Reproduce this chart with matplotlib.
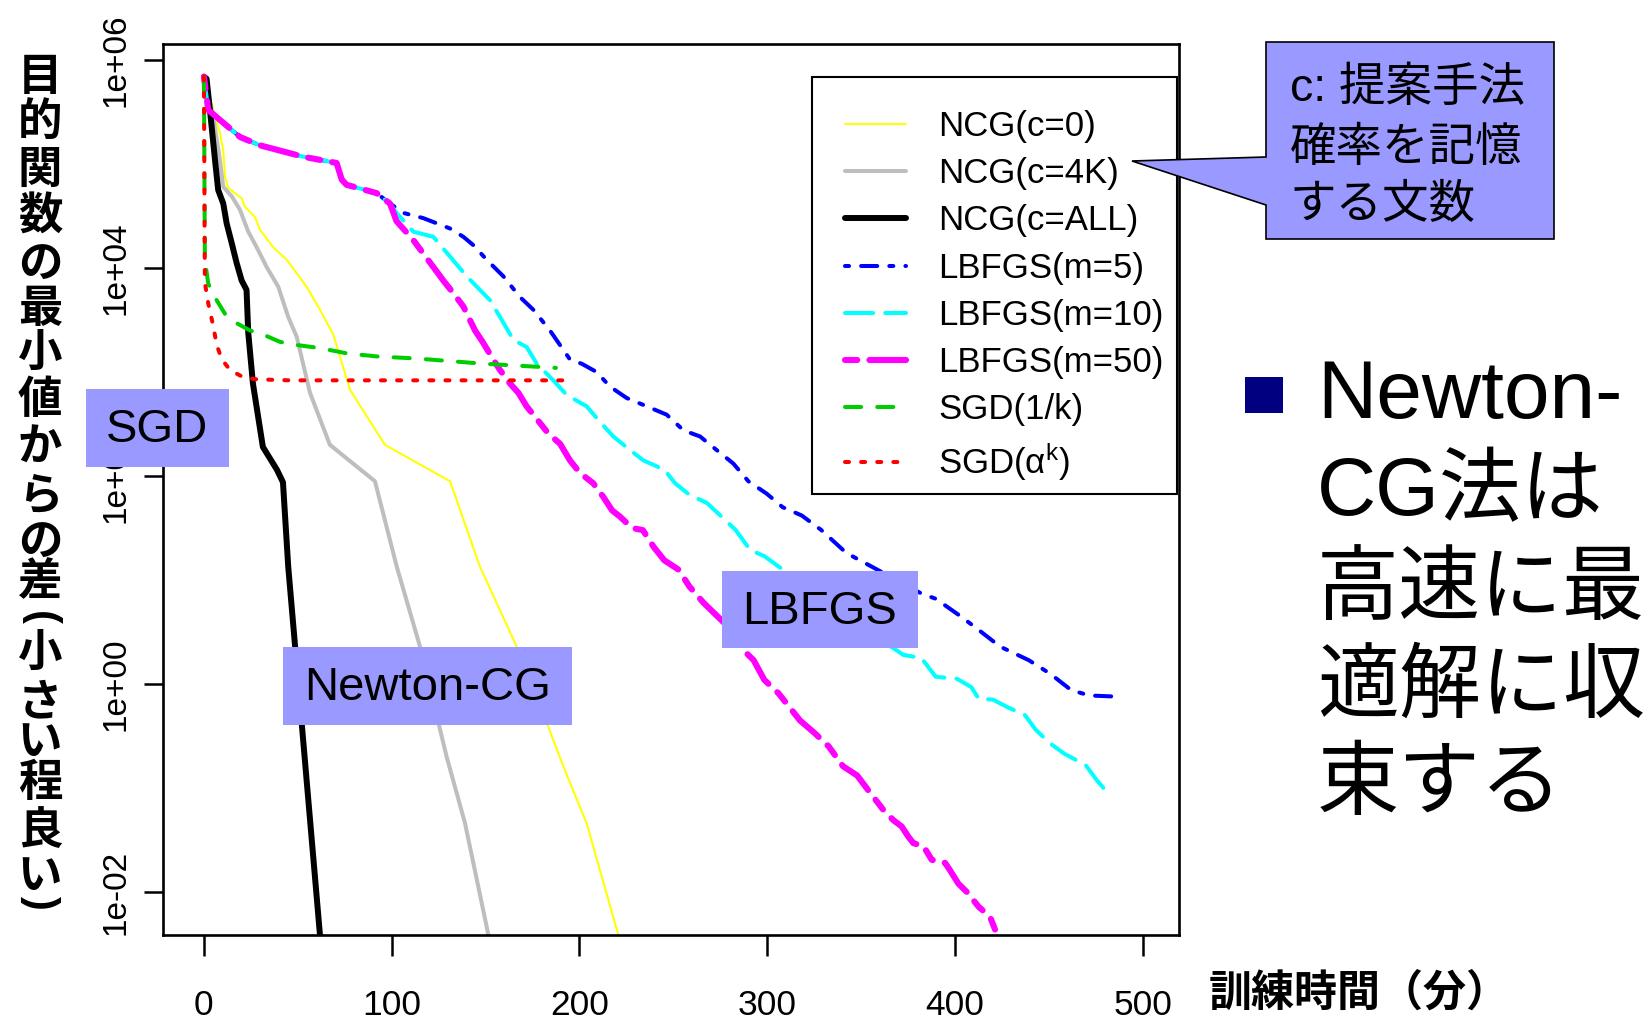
import numpy as np
import matplotlib
matplotlib.use("Agg")
import matplotlib.pyplot as plt
from matplotlib.patches import Rectangle, Polygon
from matplotlib.ticker import NullLocator

plt.rcParams['font.family'] = ['Liberation Sans', 'Noto Sans CJK JP']
plt.rcParams['mathtext.fontset'] = 'custom'
plt.rcParams['mathtext.rm'] = 'Liberation Sans'
plt.rcParams['mathtext.it'] = 'Liberation Sans:italic'
plt.rcParams['mathtext.bf'] = 'Liberation Sans:bold'
plt.rcParams['lines.scale_dashes'] = True

# ---- data: training time (minutes) and log10 of (objective - minimum) ----
ncg_c0_t = [0, 0.5, 8.5, 10.3, 11.2, 12.9, 20.1, 21.8, 27.2, 29.8, 36.9, 44.1, 54.7,
            61.8, 68.9, 77.8, 96.4, 131.1, 147.0, 166.6, 183.4, 192.3, 203.9, 220.7, 225.2]
ncg_c0_log10 = [5.84, 5.81, 5.30, 5.13, 4.88, 4.77, 4.67, 4.59, 4.49, 4.37, 4.20, 4.08, 3.82,
                3.60, 3.36, 2.83, 2.30, 1.95, 1.13, 0.36, -0.41, -0.83, -1.34, -2.41, -2.70]

ncg_c4k_t = [0, 0.5, 5.0, 8.5, 10.3, 14.8, 19.2, 23.6, 28.1, 33.4, 39.6, 44.9, 49.4,
             56.5, 67.1, 91.1, 102.7, 115.1, 129.3, 139.1, 151.5, 154.7]
ncg_c4k_log10 = [5.84, 5.81, 5.45, 5.04, 4.78, 4.69, 4.56, 4.35, 4.20, 4.01, 3.82, 3.53, 3.34,
                 2.80, 2.30, 1.95, 1.13, 0.36, -0.70, -1.34, -2.41, -2.70]

ncg_all_t = [0, 1.4, 3.2, 5.9, 7.6, 10.3, 12.1, 14.8, 17.4, 20.1, 22.7, 23.6, 26.1,
             31.4, 38.9, 42.1, 44.9, 52.1, 61.8, 63.2]
ncg_all_log10 = [5.84, 5.82, 5.52, 5.04, 4.75, 4.62, 4.43, 4.24, 4.05, 3.88, 3.79, 3.38, 2.89,
                 2.28, 2.06, 1.94, 1.13, -0.38, -2.41, -2.70]

# shared first iterations of the three L-BFGS runs
lbfgs_head_t = [0, 2.3, 19.2, 29.8, 52.9, 70.7, 73.4, 76.0, 92.0, 99.1]
lbfgs_head_log10 = [5.84, 5.52, 5.26, 5.18, 5.07, 5.01, 4.85, 4.80, 4.72, 4.62]

lbfgs_m5_t = [106.2, 116.8, 131.1, 138.2, 143.5, 150.6, 159.5, 168.4, 175.4, 184.3, 195.0,
              201.2, 209.2, 216.3, 225.2, 235.9, 246.5, 255.4, 264.3, 273.1, 282.0, 290.0,
              299.8, 308.3, 318.5, 328.9, 342.2, 355.6, 382.2, 389.8, 403.2, 412.7, 424.1,
              439.3, 450.7, 462.1, 471.7, 485.0]
lbfgs_m5_log10 = [4.53, 4.48, 4.38, 4.30, 4.22, 4.08, 3.92, 3.72, 3.60, 3.40, 3.12,
                  3.08, 3.00, 2.86, 2.75, 2.67, 2.59, 2.44, 2.38, 2.25, 2.12, 1.95,
                  1.83, 1.70, 1.62, 1.48, 1.26, 1.13, 0.87, 0.82, 0.65, 0.52, 0.36,
                  0.23, 0.10, -0.06, -0.11, -0.12]

lbfgs_m10_t = [102.6, 111.5, 122.2, 131.1, 140.0, 147.0, 152.4, 157.7, 164.8, 171.9, 177.3,
               186.1, 193.2, 203.9, 211.0, 218.1, 227.0, 234.1, 245.3, 251.0, 258.6, 268.0,
               275.7, 283.3, 290.9, 298.5, 306.1, 338.8, 372.6, 382.2, 389.8, 401.2, 408.8,
               412.6, 420.3, 427.8, 437.4, 443.1, 450.7, 458.3, 469.7, 475.4, 481.1]
lbfgs_m10_log10 = [4.53, 4.35, 4.30, 4.11, 3.92, 3.79, 3.69, 3.53, 3.31, 3.24, 3.08,
                   2.92, 2.78, 2.67, 2.52, 2.38, 2.25, 2.15, 2.06, 1.93, 1.82, 1.74,
                   1.61, 1.48, 1.29, 1.23, 1.13, 0.69, 0.28, 0.25, 0.07, 0.05, -0.03,
                   -0.14, -0.15, -0.22, -0.30, -0.44, -0.57, -0.67, -0.78, -0.92, -1.04]

lbfgs_m50_t = [102.6, 111.5, 116.8, 122.2, 127.5, 132.8, 138.2, 141.7, 144.4, 148.8, 154.1,
               157.7, 163.0, 167.5, 171.9, 179.0, 183.4, 189.7, 195.0, 200.3, 207.4, 212.7,
               217.4, 221.6, 228.1, 233.8, 239.5, 245.2, 252.8, 258.5, 266.2, 271.9, 277.6,
               287.1, 292.8, 298.5, 306.1, 311.8, 317.5, 325.2, 332.8, 340.4, 348.0, 353.8,
               361.9, 367.3, 371.7, 375.3, 377.9, 383.3, 387.7, 394.8, 397.4, 401.9, 406.4,
               412.6, 418.8, 421.4]
lbfgs_m50_log10 = [4.45, 4.27, 4.14, 4.01, 3.88, 3.76, 3.63, 3.50, 3.40, 3.28, 3.12,
                   3.02, 2.89, 2.80, 2.67, 2.51, 2.41, 2.31, 2.15, 2.03, 1.93, 1.80,
                   1.67, 1.61, 1.50, 1.48, 1.32, 1.19, 1.10, 0.94, 0.78, 0.68, 0.58,
                   0.33, 0.23, 0.04, -0.09, -0.22, -0.35, -0.47, -0.60, -0.79, -0.88, -1.02,
                   -1.21, -1.31, -1.37, -1.47, -1.53, -1.56, -1.69, -1.72, -1.79, -1.92, -2.00,
                   -2.14, -2.24, -2.36]

sgd_inv_t = [0, 0.5, 2.3, 6.8, 11.2, 17.4, 24.5, 31.6, 40.5, 49.4, 61.8, 76.0, 92.0,
             113.3, 127.5, 148.8, 168.4, 187.5]
sgd_inv_log10 = [5.84, 4.08, 3.85, 3.69, 3.56, 3.47, 3.40, 3.36, 3.29, 3.26, 3.23, 3.18, 3.15,
                 3.13, 3.11, 3.08, 3.06, 3.04]

sgd_exp_t = [0, 0.5, 2.3, 5.0, 6.8, 9.6, 13.9, 20.9, 28.1, 45.8, 195.5]
sgd_exp_log10 = [5.84, 3.86, 3.66, 3.44, 3.26, 3.12, 3.02, 2.95, 2.93, 2.92, 2.92]

legend_labels = ["NCG(c=0)", "NCG(c=4K)", "NCG(c=ALL)", "LBFGS(m=5)", "LBFGS(m=10)",
                 "LBFGS(m=50)", "SGD(1/k)", "SGD(\u03b1$^{\\mathregular{k}}$)"]
x_ticks = [0, 100, 200, 300, 400, 500]
y_ticks = [1e-2, 1e0, 1e2, 1e4, 1e6]
y_tick_labels = ["1e-02", "1e+00", "1e+02", "1e+04", "1e+06"]
y_title = "目的関数の最小値からの差(小さい程良い)"
x_title = "訓練時間（分）"
callout_lines = ["c: 提案手法", "確率を記憶", "する文数"]
bullet_lines = ["Newton-", "CG法は", "高速に最", "適解に収", "束する"]

# ---- figure ----
W, H = 1652, 1018
fig = plt.figure(figsize=(W / 100, H / 100), dpi=100)
fig.patch.set_facecolor('white')


def fx(px):
    return px / W


def fy(py):
    return 1 - py / H


def fig_rect(x0, y0, x1, y1, **kw):
    r = Rectangle((fx(x0), fy(y1)), fx(x1) - fx(x0), fy(y0) - fy(y1),
                  transform=fig.transFigure, **kw)
    fig.add_artist(r)
    return r


ax = fig.add_axes([fx(163), fy(935), fx(1179) - fx(163), fy(44) - fy(935)])
ax.set_yscale('log')

series = [
    (ncg_c0_t, ncg_c0_log10, '#FFFF00', 1.45, '-'),
    (ncg_c4k_t, ncg_c4k_log10, '#BEBEBE', 2.9, '-'),
    (ncg_all_t, ncg_all_log10, '#000000', 4.3, '-'),
    (lbfgs_head_t + lbfgs_m5_t, lbfgs_head_log10 + lbfgs_m5_log10, '#0000FF', 2.9, (0, (1, 3, 4, 3))),
    (lbfgs_head_t + lbfgs_m10_t, lbfgs_head_log10 + lbfgs_m10_log10, '#00FFFF', 2.9, (0, (7, 3))),
    (lbfgs_head_t + lbfgs_m50_t, lbfgs_head_log10 + lbfgs_m50_log10, '#FF00FF', 4.4, (0, (2, 2, 6, 2))),
    (sgd_inv_t, sgd_inv_log10, '#00CD00', 2.9, (0, (4, 4))),
    (sgd_exp_t, sgd_exp_log10, '#FF0000', 2.9, (0, (1, 3))),
]
handles = []
for (t, lg, col, lw, ls), lab in zip(series, legend_labels):
    h, = ax.plot(t, 10 ** np.asarray(lg), color=col, lw=lw, linestyle=ls,
                 dash_capstyle='round', solid_capstyle='round',
                 dash_joinstyle='round', solid_joinstyle='round', label=lab)
    handles.append(h)

ax.set_xlim(-21.8, 519.4)
ax.set_ylim(10 ** -2.413, 10 ** 6.154)
ax.set_xticks(x_ticks)
ax.set_yticks(y_ticks)
ax.set_yticklabels(y_tick_labels)
ax.yaxis.set_minor_locator(NullLocator())
for lab in ax.get_yticklabels():
    lab.set_rotation(90)
    lab.set_va('center')
ax.tick_params(axis='x', length=15, width=1.8, pad=24, labelsize=25.5, direction='out')
ax.tick_params(axis='y', length=13.5, width=1.8, pad=9, labelsize=24, direction='out')
for sp in ax.spines.values():
    sp.set_linewidth(1.9)

# legend: fixed-size framed box with the entries laid out inside it
leg_box = (0.639, 0.495, 0.359, 0.468)
ax.add_patch(Rectangle(leg_box[:2], leg_box[2], leg_box[3], transform=ax.transAxes,
                       facecolor='white', edgecolor='black', lw=1.5, zorder=4))
leg = ax.legend(handles=handles, loc='upper left', bbox_to_anchor=leg_box, mode='expand',
                borderaxespad=0, fontsize=25, handlelength=1.75, handletextpad=0.92,
                labelspacing=0.41, borderpad=0.95, frameon=False)
leg.set_zorder(5)

# ---- y title, stacked vertically (brackets turned for vertical writing) ----
y_centers = [77, 122, 170, 217, 265, 309, 353, 400, 448, 497,
             543, 582, 618, 653, 702, 742, 783, 831, 876, 903]
for ch, yc in zip(y_title, y_centers):
    if ch in "()":
        fig.text(fx(40), fy(yc), ch, fontsize=30, fontweight='bold', ha='center', va='center',
                 rotation=-90, family=['Liberation Sans'])
    else:
        fig.text(fx(40), fy(yc), ch, fontsize=32, fontweight='bold', ha='center', va='center',
                 family=['Noto Sans CJK JP'])

fig.text(fx(1209), fy(993), x_title, fontsize=31, fontweight='bold', ha='left', va='center',
         family=['Noto Sans CJK JP'])

# ---- method tags ----
box_col = '#9999FF'
for (x0, y0, x1, y1), txt in [((86, 389, 229, 467), "SGD"),
                              ((283, 647, 572, 725), "Newton-CG"),
                              ((722, 571, 918, 648), "LBFGS")]:
    fig_rect(x0, y0, x1, y1, facecolor=box_col, edgecolor='none', zorder=5)
    fig.text(fx((x0 + x1) / 2), fy((y0 + y1) / 2 + 2), txt, fontsize=34, ha='center', va='center',
             zorder=6)

# ---- callout ----
call = Polygon([(fx(1266), fy(42)), (fx(1554), fy(42)), (fx(1554), fy(239)), (fx(1266), fy(239)),
                (fx(1266), fy(205)), (fx(1132), fy(161)), (fx(1266), fy(157))],
               closed=True, transform=fig.transFigure, facecolor=box_col, edgecolor='black',
               lw=1.2, zorder=5)
fig.add_artist(call)
for line, yb in zip(callout_lines, [101, 161, 218]):
    fig.text(fx(1290), fy(yb), line, fontsize=33.5, ha='left', va='baseline', zorder=6)

# ---- bullet text ----
fig_rect(1245, 377, 1283, 413, facecolor='#000080', edgecolor='none', zorder=5)
for line, yb in zip(bullet_lines, [418, 515, 613, 711, 808]):
    fig.text(fx(1317), fy(yb), line, fontsize=59, ha='left', va='baseline', zorder=6)

fig.savefig("out.png", dpi=100)
